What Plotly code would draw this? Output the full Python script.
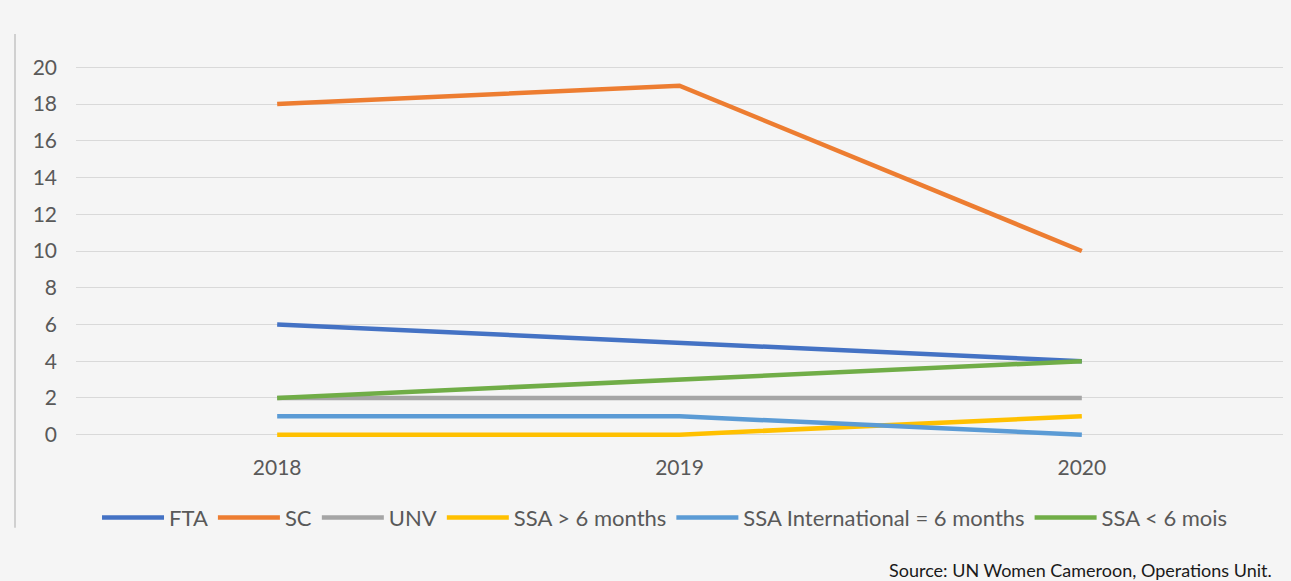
import plotly.graph_objects as go

years = ["2018", "2019", "2020"]
fta = [6, 5, 4]
sc = [18, 19, 10]
unv = [2, 2, 2]
ssa_gt6 = [0, 0, 1]
ssa_intl = [1, 1, 0]
ssa_lt6 = [2, 3, 4]

series = [
    ("FTA", fta, "#4472C4"),
    ("SC", sc, "#ED7D31"),
    ("UNV", unv, "#A5A5A5"),
    ("SSA > 6 months", ssa_gt6, "#FFC000"),
    ("SSA International = 6 months", ssa_intl, "#5B9BD5"),
    ("SSA < 6 mois", ssa_lt6, "#70AD47"),
]

fig = go.Figure()
for name, vals, color in series:
    fig.add_trace(go.Scatter(
        x=years, y=vals, name=name, mode="lines",
        line=dict(color=color, width=4.5),
    ))

font = "Lato, 'Open Sans', sans-serif"
fig.update_layout(
    width=1291, height=581,
    margin=dict(t=49, l=76, r=8, b=128),
    paper_bgcolor="#f5f5f5",
    plot_bgcolor="#f5f5f5",
    font=dict(family=font, color="#595959", size=21),
    xaxis=dict(
        type="category", range=[-0.5, 2.5], showgrid=False,
        showline=False, zeroline=False, tickfont=dict(size=21),
    ),
    yaxis=dict(
        range=[-1, 21], dtick=2, tick0=0, showgrid=True,
        gridcolor="#d9d9d9", gridwidth=1, zeroline=False,
        showline=False, tickfont=dict(size=21), ticks="",
        ticklabelstandoff=18,
    ),
    legend=dict(
        orientation="h", x=0.488, xanchor="center", y=-0.16, yanchor="middle",
        font=dict(size=22, color="#595959"), bgcolor="rgba(0,0,0,0)",
        itemwidth=62,
    ),
    showlegend=True,
)

fig.add_shape(
    type="line", xref="paper", yref="paper",
    x0=(15 - 76) / 1207, x1=(15 - 76) / 1207,
    y0=(453 - 33) / 405, y1=(453 - 528) / 405,
    line=dict(color="#d0d0d0", width=2),
)

fig.add_annotation(
    text="Source: UN Women Cameroon, Operations Unit.",
    xref="paper", yref="paper", x=0.9925, y=-0.289,
    xanchor="right", yanchor="middle", showarrow=False,
    font=dict(size=18, color="#1a1a1a", family=font),
)

fig.write_html(
    "out.html",
    config={"displayModeBar": False},
    post_script="document.body.style.margin='0';",
)
